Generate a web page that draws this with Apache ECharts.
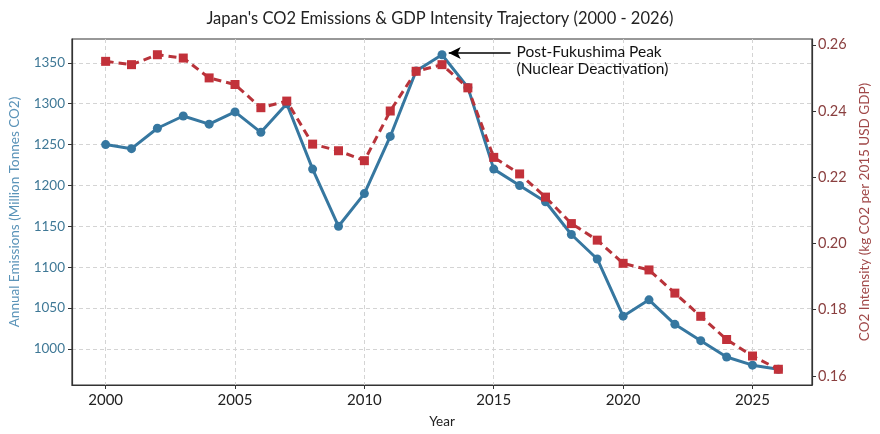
<!DOCTYPE html>
<html><head><meta charset="utf-8">
<script src="https://cdn.jsdelivr.net/npm/echarts@6/dist/echarts.min.js"></script>
<style>html,body{margin:0;padding:0;background:#fff}#c{width:880px;height:434px}</style>
</head><body><div id="c"></div>
<script>
const years = [2000,2001,2002,2003,2004,2005,2006,2007,2008,2009,2010,2011,2012,2013,2014,2015,2016,2017,2018,2019,2020,2021,2022,2023,2024,2025,2026];
const emissions = [1250,1245,1270,1285,1275,1290,1265,1300,1220,1150,1190,1260,1340,1360,1320,1220,1200,1180,1140,1110,1040,1060,1030,1010,990,980,975];
const intensity = [0.255,0.254,0.257,0.256,0.250,0.248,0.241,0.243,0.230,0.228,0.225,0.240,0.252,0.254,0.247,0.226,0.221,0.214,0.206,0.201,0.194,0.192,0.185,0.178,0.171,0.166,0.162];
const xTicks = [2000,2005,2010,2015,2020,2025];
const leftTicks = [1000,1050,1100,1150,1200,1250,1300,1350];
const rightTicks = [0.16,0.18,0.20,0.22,0.24,0.26];
const annotationText = 'Post-Fukushima Peak\n(Nuclear Deactivation)';
const peakYear = 2013;

function padRange(arr){
  const mn = Math.min(...arr), mx = Math.max(...arr), m = (mx-mn)*0.05;
  return [mn-m, mx+m];
}
const xr = padRange(years), lr = padRange(emissions), rr = padRange(intensity);
const peakVal = emissions[years.indexOf(peakYear)];
const FONT = 'Lato';
const blue = '#3677a0', red = '#c2313a';

const chart = echarts.init(document.getElementById('c'));
chart.setOption({
  animation:false,
  textStyle:{fontFamily:FONT},
  title:{text:"Japan's CO2 Emissions & GDP Intensity Trajectory (2000 - 2026)",left:'center',top:5,
    textStyle:{fontFamily:FONT,fontSize:16.5,fontWeight:'normal',color:'#222'}},
  grid:{left:69,right:66,top:39,bottom:49,show:true,borderColor:'#333',borderWidth:1.2,backgroundColor:'transparent'},
  xAxis:{type:'value',min:xr[0],max:xr[1],name:'Year',nameLocation:'middle',nameGap:30,
    nameTextStyle:{fontSize:13.5,color:'#222',fontFamily:FONT},
    axisLine:{show:true,lineStyle:{color:'#333',width:1.2}},
    axisTick:{show:true,length:4,lineStyle:{color:'#333'},customValues:xTicks},
    axisLabel:{customValues:xTicks,fontSize:15,color:'#222',margin:8,formatter:v=>String(v)},
    splitLine:{show:true,lineStyle:{color:'#d4d4d4',type:[4,3],width:1}}},
  yAxis:[
    {type:'value',min:lr[0],max:lr[1],position:'left',name:'Annual Emissions (Million Tonnes CO2)',nameLocation:'middle',nameGap:50,
      nameTextStyle:{fontSize:13.5,color:'#5a93b8',fontFamily:FONT},
      axisLine:{show:true,lineStyle:{color:'#333',width:1.2}},
      axisTick:{show:true,length:4,lineStyle:{color:'#333'},customValues:leftTicks},
      axisLabel:{customValues:leftTicks,fontSize:13.5,color:'#3f7896',margin:7,formatter:v=>String(v)},
      splitLine:{show:true,lineStyle:{color:'#d4d4d4',type:[4,3],width:1}}},
    {type:'value',min:rr[0],max:rr[1],position:'right',name:'CO2 Intensity (kg CO2 per 2015 USD GDP)',nameLocation:'middle',nameGap:46,nameRotate:90,
      nameTextStyle:{fontSize:13.5,color:'#a04848',fontFamily:FONT},
      axisLine:{show:true,lineStyle:{color:'#333',width:1.2}},
      axisTick:{show:true,length:4,lineStyle:{color:'#333'},customValues:rightTicks},
      axisLabel:{customValues:rightTicks,fontSize:14.5,color:'#8a3f3f',margin:6,formatter:v=>v.toFixed(2)},
      splitLine:{show:false}}
  ],
  series:[
    {type:'line',yAxisIndex:0,data:years.map((y,i)=>[y,emissions[i]]),symbol:'circle',symbolSize:9,
      lineStyle:{color:blue,width:3},itemStyle:{color:blue},z:2,
      markLine:{silent:true,symbol:['none','arrow'],symbolSize:[9,12],
        lineStyle:{color:'#000',width:1.5,type:'solid'},label:{show:false},
        data:[[{coord:[peakYear+2.65,peakVal+2]},{coord:[peakYear+0.26,peakVal+2]}]]},
      markPoint:{silent:true,symbol:'circle',symbolSize:0,
        label:{show:true,position:'right',distance:0,formatter:annotationText,fontSize:15.5,lineHeight:17,color:'#111',fontFamily:FONT},
        data:[{coord:[peakYear+2.88,peakVal-7]}]}},
    {type:'line',yAxisIndex:1,data:years.map((y,i)=>[y,intensity[i]]),symbol:'rect',symbolSize:9,
      lineStyle:{color:'#b8333a',width:3,type:[8,5]},itemStyle:{color:red},z:3}
  ]
});
</script></body></html>
